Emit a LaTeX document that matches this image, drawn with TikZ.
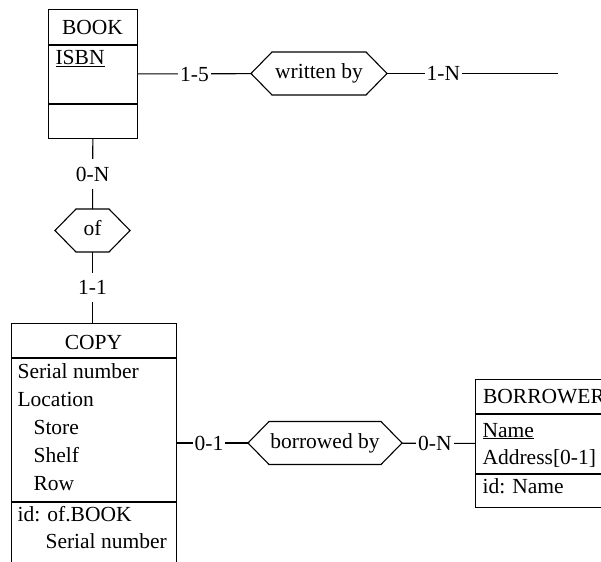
\documentclass[tikz,border=0pt]{standalone}
\usepackage{fontspec}
\setmainfont{Liberation Serif}
\begin{document}
\begin{tikzpicture}[x=1pt,y=-1pt,
  font=\fontsize{21.5pt}{26pt}\selectfont,
  line width=1.1pt,
  entbox/.style={draw, rectangle, inner sep=0pt, anchor=north west},
  reln/.style={rectangle, inner sep=0pt, outer sep=0pt, minimum height=43pt, text height=14.7pt, text depth=4.7pt},
  lbl/.style={fill=white, inner xsep=2pt, inner ysep=7.5pt, text height=14.7pt, text depth=0pt},
  txt/.style={anchor=base west, inner sep=0pt},
  ttl/.style={anchor=base, inner sep=0pt}]
\newcommand\hexa[1]{\draw (#1.west) -- ([xshift=21pt]#1.north west) -- ([xshift=-21pt]#1.north east) -- (#1.east) -- ([xshift=-21pt]#1.south east) -- ([xshift=21pt]#1.south west) -- cycle;}
\useasboundingbox (0,0) rectangle (601,561);

% BOOK
\node[entbox, minimum width=89pt, minimum height=129pt] (book) at (48,9) {};
\draw (book.north west) ++(0,36) -- ++(89,0);
\draw (book.north west) ++(0,95) -- ++(89,0);
\node[ttl] (booktitle) at (92.5,35) {BOOK};
\node[txt] (isbn) at (55,65) {\underline{ISBN}};

% written by
\node[reln, minimum width=136pt] (wb) at (319,73.5) {written by};
\hexa{wb}
\coordinate (free) at (558,73.5);

% of
\node[reln, minimum width=75pt] (of) at (92.5,230.5) {of};
\hexa{of}

% COPY
\node[entbox, minimum width=165pt, minimum height=262pt] (copy) at (11,323) {};
\draw (copy.north west) ++(0,35) -- ++(165,0);
\draw (copy.north west) ++(0,179) -- ++(165,0);
\node[ttl] (copytitle) at (93.5,349) {COPY};
\node[txt] (c1) at (17,378) {Serial number};
\node[txt] (c2) at (17,406) {Location};
\node[txt] (c3) at (33,434) {Store};
\node[txt] (c4) at (33,462) {Shelf};
\node[txt] (c5) at (33,490) {Row};
\node[txt] (c6) at (17,521) {id: of.BOOK};
\node[txt] (c7) at (45,548) {Serial number};

% borrowed by
\node[reln, minimum width=154pt] (bb) at (325,443) {borrowed by};
\hexa{bb}

% BORROWER
\node[entbox, minimum width=138pt, minimum height=128pt] (borrower) at (475,379) {};
\draw (borrower.north west) ++(0,35) -- ++(138,0);
\draw (borrower.north west) ++(0,95) -- ++(138,0);
\node[ttl] (borrowertitle) at (544,403) {BORROWER};
\node[txt] (b1) at (482,437) {\underline{Name}};
\node[txt] (b2) at (482,464) {Address[0-1]};
\node[txt] (b3) at (482,493) {id: Name};

% connectors
\draw (book) -- node[lbl] {1-5} (wb);
\draw (wb) -- node[lbl, pos=0.33] {1-N} (free);
\draw (book) -- node[lbl] {0-N} (of);
\draw (of.south) -- node[lbl] {1-1} (of.south |- copy.north);
\draw (bb -| copy.east) -- node[lbl, pos=0.45] {0-1} (bb);
\draw (bb) -- node[lbl, pos=0.45] {0-N} (borrower);
\end{tikzpicture}
\end{document}
